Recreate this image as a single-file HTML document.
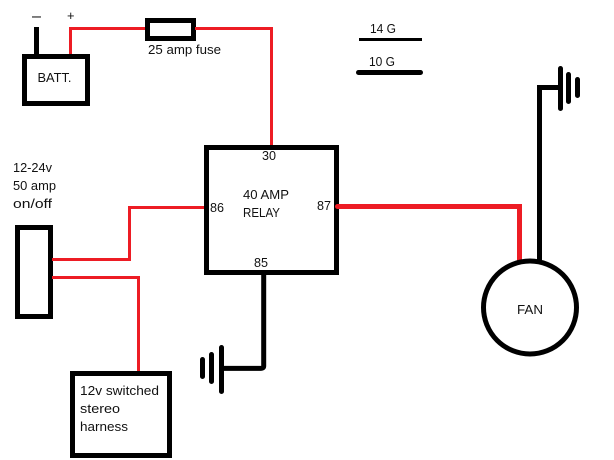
<!DOCTYPE html>
<html><head><meta charset="utf-8"><style>
html,body{margin:0;padding:0;background:#fff;width:614px;height:460px;overflow:hidden}
svg{display:block}
text{font-family:"Liberation Sans",sans-serif;font-size:13px;fill:#111}
.k{fill:none;stroke:#000;stroke-width:5}
.r{fill:none;stroke:#ed1c24;stroke-width:3}
.r2{fill:none;stroke:#ed1c24;stroke-width:5}
.c{stroke:#000;stroke-width:5;stroke-linecap:round;fill:none}
</style></head><body>
<svg width="614" height="460" viewBox="0 0 614 460" xmlns="http://www.w3.org/2000/svg">
<rect width="614" height="460" fill="#fff"/>
<!-- battery -->
<rect class="k" x="24.5" y="56.5" width="63" height="47"/>
<path class="k" d="M36.5 27V54"/>
<path class="r" d="M70.5 54V28.5H146"/>
<!-- fuse -->
<rect class="k" x="147.5" y="20.5" width="46" height="18"/>
<path class="r" d="M195 28.5H271.5V146"/>
<!-- relay -->
<rect class="k" x="206.5" y="147.5" width="130" height="125"/>
<!-- switch -->
<rect class="k" x="17.5" y="227.5" width="33" height="89"/>
<path class="r" d="M52 259.5H129.5V207.5H204"/>
<path class="r" d="M52 277.5H138.5V371"/>
<!-- harness -->
<rect class="k" x="72.5" y="373.5" width="97" height="82"/>
<!-- relay ground -->
<path class="k" d="M263.7 275V366Q263.7 368.4 261 368.4H224"/>
<path class="c" d="M221.5 347.5V391.5M211.5 354.5V381.5M202.5 359.5V376.5"/>
<!-- legend -->
<path d="M359 39.5H422" stroke="#000" stroke-width="3" fill="none"/>
<path d="M358.5 72.5H420.5" class="c"/>
<!-- fan ground -->
<path class="k" d="M539.5 260V87.5H558"/>
<path class="c" d="M560.5 68.5V108.5M568.5 74.5V101.5M577.5 79.5V95.5"/>
<!-- 87 to fan -->
<path class="r2" d="M337.5 206.5H519.5V261.5" stroke-linecap="round"/>
<circle cx="530" cy="307.5" r="46.5" class="k"/>
<!-- labels -->
<text x="32" y="21" style="font-size:16px" textLength="9" lengthAdjust="spacingAndGlyphs">–</text>
<text x="67" y="20" textLength="7.5" lengthAdjust="spacingAndGlyphs">+</text>
<text x="148" y="54" textLength="73" lengthAdjust="spacingAndGlyphs">25 amp fuse</text>
<text x="37.5" y="82" textLength="34" lengthAdjust="spacingAndGlyphs">BATT.</text>
<text x="13" y="172" textLength="39" lengthAdjust="spacingAndGlyphs">12-24v</text>
<text x="13" y="190" textLength="43" lengthAdjust="spacingAndGlyphs">50 amp</text>
<text x="13" y="208" textLength="39" lengthAdjust="spacingAndGlyphs">on/off</text>
<text x="262" y="160" textLength="14" lengthAdjust="spacingAndGlyphs">30</text>
<text x="243" y="199" textLength="46" lengthAdjust="spacingAndGlyphs">40 AMP</text>
<text x="243" y="217" textLength="37" lengthAdjust="spacingAndGlyphs">RELAY</text>
<text x="210" y="212" textLength="14" lengthAdjust="spacingAndGlyphs">86</text>
<text x="317" y="210" textLength="14" lengthAdjust="spacingAndGlyphs">87</text>
<text x="254" y="267" textLength="14" lengthAdjust="spacingAndGlyphs">85</text>
<text x="370" y="33" textLength="26" lengthAdjust="spacingAndGlyphs">14 G</text>
<text x="369" y="66" textLength="26" lengthAdjust="spacingAndGlyphs">10 G</text>
<text x="517" y="314" textLength="26" lengthAdjust="spacingAndGlyphs">FAN</text>
<text x="80" y="395" textLength="79" lengthAdjust="spacingAndGlyphs">12v switched</text>
<text x="80" y="413" textLength="40" lengthAdjust="spacingAndGlyphs">stereo</text>
<text x="80" y="431" textLength="48" lengthAdjust="spacingAndGlyphs">harness</text>
</svg>
</body></html>
